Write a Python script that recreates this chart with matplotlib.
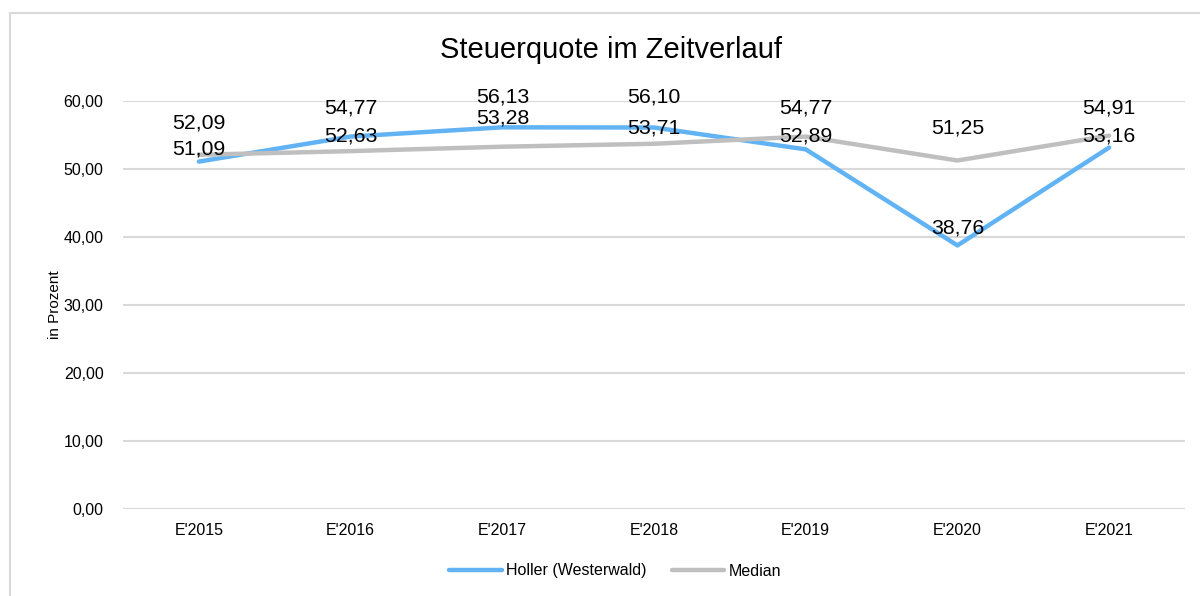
import matplotlib
matplotlib.use("Agg")
import matplotlib.pyplot as plt
from matplotlib.patches import Rectangle

categories = ["E'2015", "E'2016", "E'2017", "E'2018", "E'2019", "E'2020", "E'2021"]
holler = [51.09, 54.77, 56.13, 56.10, 52.89, 38.76, 53.16]
median = [52.09, 52.63, 53.28, 53.71, 54.77, 51.25, 54.91]
yticks = [0, 10, 20, 30, 40, 50, 60]

# label offsets above the point (pixels), style only
holler_label_off = [13.0, 29.0, 30.5, 30.5, 13.0, 17.0, 11.5]
median_label_off = [32.0, 15.0, 29.0, 15.5, 29.0, 32.0, 28.0]

plt.rcParams['font.family'] = ['Liberation Sans', 'DejaVu Sans']

W, H = 1200, 596
fig = plt.figure(figsize=(W / 100, H / 100), dpi=100)
ax = fig.add_axes([123 / W, 1 - 509 / H, (1185 - 123) / W, (509 - 101) / H])

blue = '#62B3F4'
grey = '#BFBFBF'
x = list(range(len(categories)))
ax.plot(x, holler, color=blue, lw=3.2, solid_capstyle='round', solid_joinstyle='round', zorder=3,
        label='Holler (Westerwald)')
ax.plot(x, median, color=grey, lw=3.2, solid_capstyle='round', solid_joinstyle='round', zorder=4,
        label='Median')

def fmt(v):
    return f"{v:.2f}".replace('.', ',')

for xi, v, off in zip(x, holler, holler_label_off):
    ax.annotate(fmt(v), (xi, v), xytext=(0, off), textcoords='offset pixels',
                ha='center', va='center', fontsize=15.3, color='#000000', zorder=5)
for xi, v, off in zip(x, median, median_label_off):
    ax.annotate(fmt(v), (xi, v), xytext=(0, off), textcoords='offset pixels',
                ha='center', va='center', fontsize=15.3, color='#000000', zorder=5)

ax.set_xlim(-0.5, len(categories) - 0.5)
ax.set_ylim(0, 60)
ax.set_yticks(yticks)
ax.set_yticklabels([fmt(t) for t in yticks], fontsize=11.5)
ax.set_xticks(x)
ax.set_xticklabels(categories, fontsize=11.5)
ax.tick_params(length=0, pad=10)
ax.tick_params(axis='y', pad=14)
for s in ax.spines.values():
    s.set_visible(False)
ax.grid(axis='y', color='#D9D9D9', lw=1.5)
ax.set_axisbelow(True)

fig.text(55 / W, 1 - 305 / H, 'in Prozent', rotation=90, ha='center', va='center', fontsize=11)
fig.text(611 / W, 1 - 50 / H, 'Steuerquote im Zeitverlauf', ha='center', va='center', fontsize=21)

leg = fig.legend(loc='center', bbox_to_anchor=(615 / W, 1 - 571 / H), ncol=2, frameon=False,
                 fontsize=11.5, handlelength=3.3, handletextpad=0.25, columnspacing=1.6)

fig.patches.append(Rectangle((10 / W, -0.1), 1.2, (H - 13) / H + 0.1, transform=fig.transFigure,
                             fill=False, edgecolor='#D9D9D9', lw=1.5, zorder=0))

fig.savefig('out.png', dpi=100)
